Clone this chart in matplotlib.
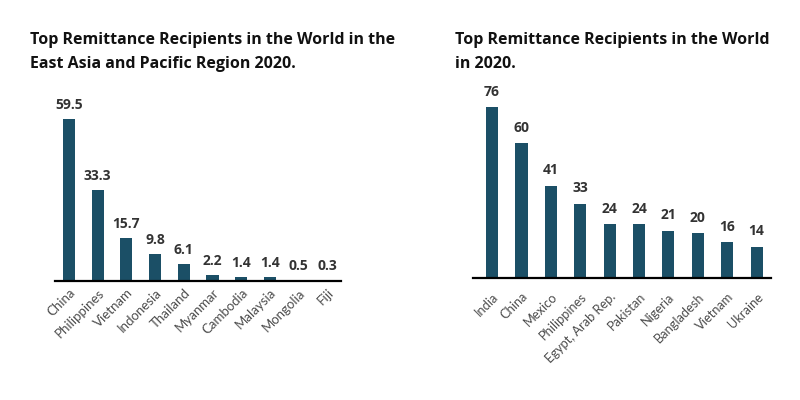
import matplotlib.pyplot as plt

# data
eap_countries = ["China", "Philippines", "Vietnam", "Indonesia", "Thailand",
                 "Myanmar", "Cambodia", "Malaysia", "Mongolia", "Fiji"]
eap_values = [59.5, 33.3, 15.7, 9.8, 6.1, 2.2, 1.4, 1.4, 0.5, 0.3]
eap_labels = ["59.5", "33.3", "15.7", "9.8", "6.1", "2.2", "1.4", "1.4", "0.5", "0.3"]

world_countries = ["India", "China", "Mexico", "Philippines", "Egypt, Arab Rep.",
                   "Pakistan", "Nigeria", "Bangladesh", "Vietnam", "Ukraine"]
world_values = [76, 60, 41, 33, 24, 24, 21, 20, 16, 14]

bar_color = "#1b4f66"
W, H = 800, 400

fig = plt.figure(figsize=(8, 4), dpi=100)


def px_axes(left, right, base, height):
    # axes placed in pixel coords (y measured from the top)
    return fig.add_axes([left / W, (H - base) / H, (right - left) / W, height / H])


def draw(ax, names, vals, labels, xlim, ymax, width, offset, pad, fs):
    x = list(range(len(names)))
    ax.bar(x, vals, width=width, color=bar_color)
    for xi, v, lab in zip(x, vals, labels):
        ax.annotate(lab, (xi, v), xytext=(0, offset), textcoords="offset points",
                    ha="center", va="bottom", fontsize=10, fontweight="bold",
                    color="#333333", family="Open Sans", annotation_clip=False)
    ax.set_xlim(*xlim)
    ax.set_ylim(0, ymax)
    ax.set_xticks(x)
    ax.set_xticklabels(names, rotation=45, ha="right", va="top",
                       rotation_mode="anchor", fontsize=fs, color="#4d4d4d",
                       family="Lato")
    ax.tick_params(length=0, pad=pad)
    ax.set_yticks([])
    for s in ["top", "right", "left"]:
        ax.spines[s].set_visible(False)
    ax.spines["bottom"].set_linewidth(1.6)
    ax.patch.set_alpha(0)


ax1 = px_axes(55, 341, 281, 180)
draw(ax1, eap_countries, eap_values, eap_labels, (-0.49, 9.48), 180 / 2.72,
     0.42, 5, 4, 9.5)

ax2 = px_axes(473, 771, 278, 180)
draw(ax2, world_countries, world_values, [str(v) for v in world_values],
     (-0.65, 9.49), 180 / 2.25, 0.41, 6, 9, 9.3)

fig.text(30 / W, 1 - 32 / H,
         "Top Remittance Recipients in the World in the\nEast Asia and Pacific Region 2020.",
         ha="left", va="top", fontsize=11.5, fontweight="bold", family="Open Sans",
         linespacing=1.68, color="#111111")
fig.text(455 / W, 1 - 32 / H,
         "Top Remittance Recipients in the World\nin 2020.",
         ha="left", va="top", fontsize=11.5, fontweight="bold", family="Open Sans",
         linespacing=1.68, color="#111111")

fig.savefig("out.png", dpi=100)
